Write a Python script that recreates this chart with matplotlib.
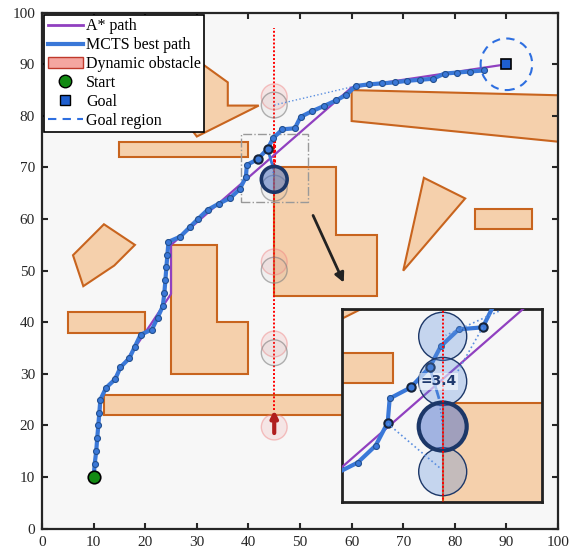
import numpy as np
import matplotlib
matplotlib.use("Agg")
import matplotlib.pyplot as plt
from matplotlib.patches import Polygon, Circle, Rectangle, FancyArrowPatch, Patch
from matplotlib.lines import Line2D

plt.rcParams["font.family"] = ["Liberation Serif", "DejaVu Serif"]

# ---- data ----
# MCTS best path (start first)
path_x = [10.0, 10.2, 10.5, 10.7, 10.9, 11.1, 11.3, 12.4, 14.2, 15.2, 16.9, 18.0, 19.1,
          21.3, 22.4, 23.4, 23.7, 23.9, 24.1, 24.3, 24.5, 26.8, 28.6, 30.3, 32.1, 34.3,
          36.5, 38.3, 39.5, 39.7, 41.8, 43.7, 44.8, 46.6, 49.0, 50.1, 52.3, 54.6, 57.0,
          59.0, 60.8, 63.3, 65.8, 68.4, 70.8, 73.3, 75.8, 78.0, 80.5, 82.9, 85.6]
path_y = [10.0, 12.5, 15.0, 17.6, 20.0, 22.4, 25.0, 27.3, 29.0, 31.3, 33.0, 35.3, 37.6,
          38.6, 40.9, 43.1, 45.6, 48.1, 50.7, 53.1, 55.6, 56.6, 58.4, 60.1, 61.8, 63.0,
          64.1, 65.8, 68.1, 70.5, 71.6, 73.6, 75.7, 77.4, 77.6, 79.8, 80.9, 81.9, 83.0,
          84.1, 85.8, 86.1, 86.3, 86.5, 86.8, 87.0, 87.2, 88.2, 88.4, 88.6, 88.8]
ring_idx = [30, 31]            # highlighted nodes in the main view
inset_ring_idx = [28, 30, 31, 34]

# A* path
astar_x = [10, 11.5, 21, 25, 25, 60, 90]
astar_y = [10, 25.5, 39.5, 45.5, 55, 85.5, 90]

start = (10, 10)
goal = (90, 90)
goal_radius = 5

# static obstacles
obstacles = [
    [(27, 93), (36, 86.5), (36, 82), (42, 82), (30, 76), (27, 80)],
    [(15, 72), (40, 72), (40, 75), (15, 75)],
    [(45, 45), (65, 45), (65, 57), (57, 57), (57, 70), (45, 70)],
    [(25, 30), (40, 30), (40, 40), (34, 40), (34, 55), (25, 55)],
    [(5, 38), (20, 38), (20, 42), (5, 42)],
    [(12, 22), (72, 22), (72, 26), (12, 26)],
    [(6, 53), (12, 59), (18, 55), (14, 51), (8, 47)],
    [(60, 85), (100, 84), (100, 75), (60, 79)],
    [(74, 68), (82, 64), (70, 50)],
    [(84, 58), (95, 58), (95, 62), (84, 62)],
]

# dynamic obstacle (moves along x = 45)
dyn_x = 45
dyn_r = 2.5
dyn_past_y = [19.7, 35.8, 51.7, 83.7]
dyn_ghost_y = [34.1, 50.1, 66.0, 82.1]
dyn_now_y = 67.7
inset_pred_y = [76.7, 72.2, 63.2]
inset_label = "=3.4"

# ---- style ----
obs_fc = "#f5d0ac"
obs_ec = "#c8641e"
mcts_c = "#3a78d8"
astar_c = "#9040c0"

fig = plt.figure(figsize=(5.71, 5.59), dpi=100)
ax = fig.add_axes([0.0736, 0.0542, 0.9037, 0.9231])
ax.set_facecolor("#f7f7f7")


def draw_scene(a, rings=ring_idx):
    for pts in obstacles:
        a.add_patch(Polygon(pts, closed=True, fc=obs_fc, ec=obs_ec, lw=1.5, zorder=1))
    a.plot(astar_x, astar_y, color=astar_c, lw=1.6, zorder=3)
    a.plot(path_x, path_y, color=mcts_c, lw=3.0, zorder=4, solid_capstyle="round")
    a.plot(path_x[1:], path_y[1:], "o", ms=4.3, mfc=mcts_c, mec="#23508f", mew=0.8, zorder=5)
    for i in rings:
        a.plot(path_x[i], path_y[i], "o", ms=6, mfc=mcts_c, mec="#15233a", mew=1.5, zorder=6)
    # branch towards the dynamic obstacle
    a.plot([43.7, 44.6], [73.6, 70.6], color=mcts_c, lw=2.0, zorder=4)
    a.plot([44.6, dyn_x], [70.6, dyn_now_y], color=mcts_c, lw=1.0, ls=":", zorder=4)


draw_scene(ax)

# dynamic obstacle trajectory
ax.plot([dyn_x, dyn_x], [23, 97], color="red", ls=(0, (1, 1)), lw=1.4, zorder=2)
ax.plot([dyn_x, dyn_x], [70, 76], color="red", ls=(0, (1, 0.6)), lw=2.2, zorder=2)
for y in dyn_past_y:
    ax.add_patch(Circle((dyn_x, y), dyn_r, fc=(0.94, 0.5, 0.5, 0.15),
                        ec=(0.94, 0.5, 0.5, 0.45), lw=1, zorder=2))
for y in dyn_ghost_y:
    ax.add_patch(Circle((dyn_x, y), dyn_r, fc=(0.6, 0.6, 0.6, 0.08),
                        ec=(0.5, 0.5, 0.5, 0.6), lw=1, zorder=2))
ax.add_patch(Circle((dyn_x, dyn_now_y), dyn_r, fc=(0.30, 0.44, 0.74, 0.55),
                    ec="#1c3768", lw=2.6, zorder=5))
ax.plot([dyn_x, 60.8], [dyn_ghost_y[-1], 85.8], color="#5b8fe0", ls=":", lw=1.0, zorder=2)

ax.add_patch(FancyArrowPatch((dyn_x, 18.0), (dyn_x, 23.5), arrowstyle="-|>",
                             mutation_scale=10, color="#b01e1e", lw=3, zorder=6))

# goal region, start, goal
ax.add_patch(Circle(goal, goal_radius, fill=False, ls=(0, (4, 3)), ec="#2e6fe0", lw=1.5, zorder=3))
ax.plot(*start, "o", ms=9, mfc="#138a13", mec="black", mew=1.2, zorder=7)
ax.plot(*goal, "s", ms=7, mfc="#1f5fcf", mec="black", mew=1.2, zorder=7)

# zoom box and arrow
ax.add_patch(Rectangle((38.5, 63.4), 13.1, 13.0, fill=False, ls="-.", ec="#999999", lw=1, zorder=3))
ax.add_patch(FancyArrowPatch((52.3, 61.2), (58.7, 47.2), arrowstyle="-|>",
                             mutation_scale=14, color="#222222", lw=2, zorder=6))

ax.set_xlim(0, 100)
ax.set_ylim(0, 100)
ax.set_xticks(np.arange(0, 101, 10))
ax.set_yticks(np.arange(0, 101, 10))
ax.tick_params(direction="in", top=True, right=True, length=4, width=1.5,
               labelsize=11, pad=5, colors="#262626")
for s in ax.spines.values():
    s.set_linewidth(1.6)
    s.set_color("#262626")

handles = [
    Line2D([], [], color=astar_c, lw=2),
    Line2D([], [], color=mcts_c, lw=3),
    Patch(fc="#f4a6a0", ec="#c0392b", lw=1),
    Line2D([], [], ls="none", marker="o", ms=9, mfc="#138a13", mec="black"),
    Line2D([], [], ls="none", marker="s", ms=7, mfc="#1f5fcf", mec="black"),
    Line2D([], [], color="#2e6fe0", ls=(0, (4, 3)), lw=1.5),
]
labels = ["A* path", "MCTS best path", "Dynamic obstacle", "Start", "Goal", "Goal region"]
leg = ax.legend(handles, labels, loc="upper left", fontsize=11.5, fancybox=False,
                edgecolor="black", framealpha=1, borderaxespad=0.15, borderpad=0.2,
                labelspacing=0.18, handlelength=2.2, handletextpad=0.2)
leg.get_frame().set_linewidth(1.2)
leg.set_zorder(10)

# ---- inset ----
axi = fig.add_axes([0.5984, 0.1025, 0.3503, 0.3442], zorder=5)
axi.set_facecolor("#f7f7f7")
draw_scene(axi, rings=inset_ring_idx)
axi.plot([dyn_x, dyn_x], [55, 85], color="red", ls=(0, (1, 1)), lw=1.4, zorder=8)
for y in inset_pred_y:
    axi.add_patch(Circle((dyn_x, y), 2.4, fc=(0.37, 0.56, 0.86, 0.32),
                         ec="#1c3768", lw=1, zorder=6))
axi.add_patch(Circle((dyn_x, dyn_now_y), 2.4, fc=(0.30, 0.44, 0.80, 0.5),
                     ec="#1c3768", lw=3, zorder=6))
axi.plot([50.6, 45.3], [79.2, 76.8], color="#5b8fe0", ls=":", lw=1.2, zorder=7)
axi.plot([49.0, 46.5], [77.6, 73.2], color="#5b8fe0", ls=":", lw=1.2, zorder=7)
axi.plot([39.5, 44.8], [68.0, 63.5], color="#5b8fe0", ls=":", lw=1.2, zorder=7)
axi.text(44.6, 72.2, inset_label, fontsize=10, fontweight="bold", color="#1f3a6e",
         family="DejaVu Sans", ha="center", va="center", zorder=9,
         bbox=dict(fc="white", ec="none", alpha=0.55, pad=1))
axi.set_xlim(34.9, 54.9)
axi.set_ylim(60.2, 79.4)
axi.set_xticks([])
axi.set_yticks([])
for s in axi.spines.values():
    s.set_linewidth(2)
    s.set_color("#222222")

fig.savefig("out.png", dpi=100)
